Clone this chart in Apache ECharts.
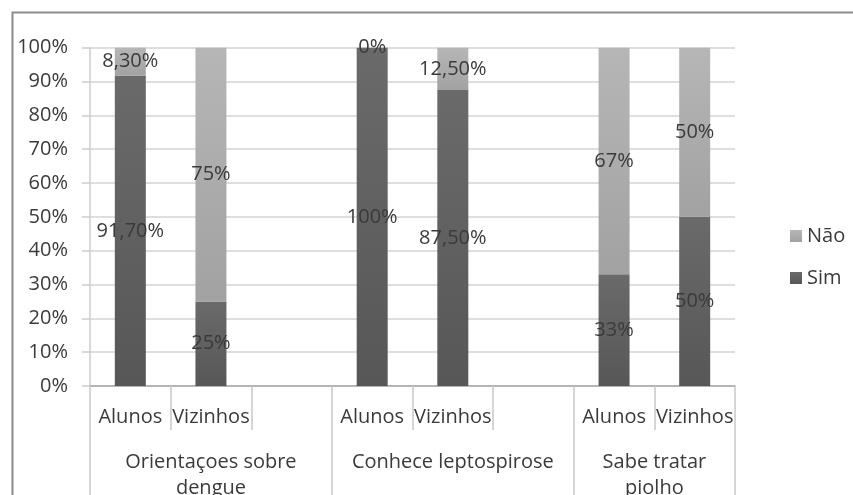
<!DOCTYPE html>
<html>
<head>
<meta charset="utf-8">
<script src="https://cdn.jsdelivr.net/npm/echarts@6/dist/echarts.min.js"></script>
<style>
  html, body { margin: 0; padding: 0; background: #fff; }
  #chart { width: 853px; height: 495px; }
</style>
</head>
<body>
<div id="chart"></div>
<script>
// Slots of the inner axis: each survey question has Alunos / Vizinhos, with an empty spacer slot between groups
const slotLabels = ['Alunos', 'Vizinhos', '', 'Alunos', 'Vizinhos', '', 'Alunos', 'Vizinhos'];
// Outer axis: question names and where each one is centred (in half-slot units)
const groupLabels = ['Orientaçoes sobre\ndengue', 'Conhece leptospirose', 'Sabe tratar\npiolho'];
const groupCenters = [3, 9, 14];
// Group boundaries (slot index where each group starts)
const groupStarts = [0, 3, 6];

// Percent answering "Sim" / "Não"
const simValues = [91.7, 25, null, 100, 87.5, null, 33, 50];
const naoValues = [8.3, 75, null, 0, 12.5, null, 67, 50];

const yTicks = [0, 10, 20, 30, 40, 50, 60, 70, 80, 90, 100];

const FONT = 'Open Sans';
const TEXT = '#3a3a3a';

function pctLabel(v) {
  if (v === null || v === undefined) return '';
  if (Number.isInteger(v)) return v + '%';
  return v.toFixed(2).replace('.', ',') + '%';
}

function grad(top, bottom) {
  return new echarts.graphic.LinearGradient(0, 0, 0, 1, [
    { offset: 0, color: top },
    { offset: 1, color: bottom }
  ]);
}

const chart = echarts.init(document.getElementById('chart'), null, { renderer: 'canvas' });

const barLabel = {
  show: true,
  position: 'inside',
  color: TEXT,
  fontFamily: FONT,
  fontSize: 20,
  formatter: p => pctLabel(p.value)
};

chart.setOption({
  animation: false,
  backgroundColor: '#ffffff',
  graphic: [{
    type: 'rect',
    left: 10,
    top: 10,
    shape: { width: 900, height: 600 },
    style: { fill: 'none', stroke: '#8c8c8c', lineWidth: 2 },
    silent: true
  }],
  legend: {
    orient: 'vertical',
    left: 785,
    top: 221,
    data: ['Não', 'Sim'],
    itemWidth: 12,
    itemHeight: 12,
    itemGap: 22,
    icon: 'rect',
    textStyle: { fontFamily: FONT, fontSize: 20, color: TEXT, padding: [0, 0, 0, 0] }
  },
  grid: {
    left: 90, right: 118, top: 47.7, bottom: 109,
    containLabel: false,
    outerBoundsMode: 'none'
  },
  xAxis: [
    {
      type: 'category',
      data: slotLabels,
      position: 'bottom',
      axisLine: { show: true, lineStyle: { color: '#a8a8a8', width: 1.5 } },
      axisTick: { show: true, length: 44, lineStyle: { color: '#c8c8c8', width: 1.5 } },
      axisLabel: { show: true, interval: 0, margin: 21, fontFamily: FONT, fontSize: 20, color: TEXT }
    },
    {
      // long separators between question groups
      type: 'category',
      data: slotLabels,
      position: 'bottom',
      axisLine: { show: false },
      axisTick: {
        show: true,
        length: 120,
        interval: (i) => groupStarts.indexOf(i) !== -1,
        lineStyle: { color: '#c8c8c8', width: 1.5 }
      },
      axisLabel: { show: false }
    },
    {
      // question names under each group
      type: 'value',
      min: 0,
      max: 16,
      interval: 1,
      position: 'bottom',
      axisLine: { show: false },
      axisTick: { show: false },
      splitLine: { show: false },
      axisLabel: {
        show: true,
        margin: 63,
        fontFamily: FONT,
        fontSize: 20,
        lineHeight: 26,
        color: TEXT,
        align: 'center',
        showMinLabel: true,
        showMaxLabel: true,
        formatter: (v) => {
          const k = groupCenters.indexOf(v);
          return k === -1 ? '' : groupLabels[k];
        }
      }
    }
  ],
  yAxis: {
    type: 'value',
    min: 0,
    max: 100,
    interval: 10,
    axisLine: { show: true, lineStyle: { color: '#cdcdcd', width: 1.5 } },
    axisTick: { show: true, length: 8, lineStyle: { color: '#cdcdcd', width: 1.5 } },
    splitLine: { show: true, lineStyle: { color: '#d3d3d3', width: 1.5 } },
    axisLabel: {
      margin: 22,
      fontFamily: FONT,
      fontSize: 20,
      color: TEXT,
      formatter: (v) => yTicks.indexOf(v) !== -1 ? v + '%' : ''
    }
  },
  series: [
    {
      name: 'Sim',
      type: 'bar',
      stack: 'total',
      xAxisIndex: 0,
      barWidth: 31,
      data: simValues,
      itemStyle: { color: grad('#6a6a6a', '#575757') },
      label: barLabel
    },
    {
      name: 'Não',
      type: 'bar',
      stack: 'total',
      xAxisIndex: 0,
      barWidth: 31,
      data: naoValues,
      itemStyle: { color: grad('#b6b6b6', '#a2a2a2') },
      label: barLabel
    }
  ]
});
</script>
</body>
</html>
